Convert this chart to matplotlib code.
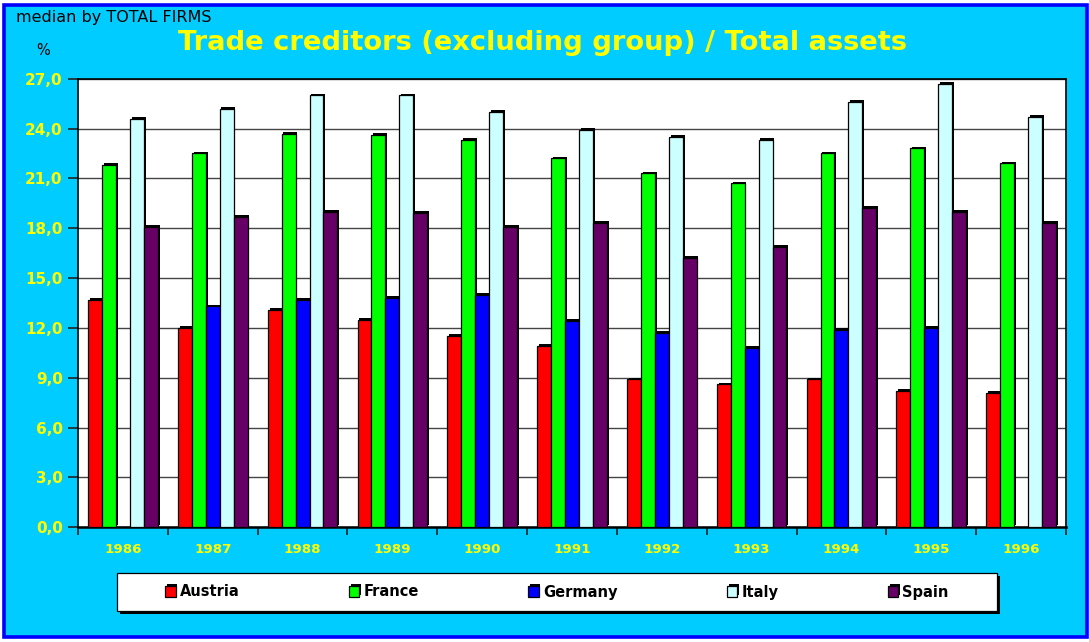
import matplotlib
matplotlib.use("Agg")
import matplotlib.pyplot as plt
import matplotlib.patches as mpatches
import matplotlib.patheffects as pe
import numpy as np

# ---- data -------------------------------------------------------------
years = ["1986", "1987", "1988", "1989", "1990", "1991",
         "1992", "1993", "1994", "1995", "1996"]
austria = [13.7, 12.0, 13.1, 12.5, 11.5, 10.9, 8.9, 8.6, 8.9, 8.2, 8.1]
france = [21.8, 22.5, 23.7, 23.6, 23.3, 22.2, 21.3, 20.7, 22.5, 22.8, 21.9]
germany = [0.0, 13.3, 13.7, 13.8, 14.0, 12.4, 11.7, 10.8, 11.9, 12.0, 0.0]
italy = [24.6, 25.2, 26.0, 26.0, 25.0, 23.9, 23.5, 23.3, 25.6, 26.7, 24.7]
spain = [18.1, 18.7, 19.0, 18.9, 18.1, 18.3, 16.2, 16.9, 19.2, 19.0, 18.3]

series = [("Austria", austria, "#FF0000"),
          ("France", france, "#00FF00"),
          ("Germany", germany, "#0000FF"),
          ("Italy", italy, "#CCFFFF"),
          ("Spain", spain, "#660066")]

yticks = np.arange(0, 27.1, 3)

# ---- figure -----------------------------------------------------------
W, H = 1089, 642
fig = plt.figure(figsize=(W / 100, H / 100), dpi=100, facecolor="white")


def fx(px):
    return px / W


def fy(py):
    return 1 - py / H


# cyan chart area with blue frame
bg = mpatches.Rectangle((fx(3.7), fy(637)), fx(1086.7) - fx(3.7), fy(5.3) - fy(637),
                        transform=fig.transFigure, facecolor="#00CCFF",
                        edgecolor="#0000FF", linewidth=2.6, zorder=-5)
fig.patches.append(bg)

ax = fig.add_axes([fx(78), fy(527.3), fx(1066) - fx(78), fy(78.7) - fy(527.3)])
ax.set_facecolor("white")

n = len(years)
x = np.arange(n)
bw = 0.155
shadow = [pe.SimplePatchShadow(offset=(1.3, 1.3), shadow_rgbFace="black", alpha=1.0),
          pe.Normal()]

handles = []
for k, (name, vals, col) in enumerate(series):
    bars = ax.bar(x + (k - 2) * bw, vals, width=bw, color=col,
                  edgecolor="black", linewidth=0.9, label=name, zorder=3)
    for b in bars:
        b.set_path_effects(shadow)
    handles.append(bars)

ax.set_xlim(-0.5, n - 0.5)
ax.set_ylim(0, 27)

# y axis
ax.set_yticks(yticks)
ax.set_yticklabels([f"{v:.1f}".replace(".", ",") for v in yticks],
                   fontfamily="DejaVu Sans", fontweight="bold",
                   fontsize=11, color="#FFFF00")
ax.tick_params(axis="y", which="major", length=7, width=1.2, color="#222222", pad=4)
ax.yaxis.grid(True, color="#444444", linewidth=1.0, zorder=0)
ax.set_axisbelow(True)

# x axis: ticks on group boundaries, labels centred on groups
ax.set_xticks(np.arange(-0.5, n, 1.0))
ax.set_xticklabels([])
ax.set_xticks(x, minor=True)
ax.set_xticklabels(years, minor=True, fontfamily="DejaVu Sans",
                   fontweight="bold", fontsize=9.6, color="#FFFF00")
ax.tick_params(axis="x", which="major", length=6, width=1.2, color="#222222")
ax.tick_params(axis="x", which="minor", length=0, pad=11.5)

for side, sp in ax.spines.items():
    sp.set_color("black")
    sp.set_linewidth(1.2)
ax.spines["bottom"].set_linewidth(1.8)

# ---- texts ------------------------------------------------------------
fig.text(fx(543), fy(50), "Trade creditors (excluding group) / Total assets",
         ha="center", va="baseline", fontfamily="DejaVu Sans",
         fontweight="bold", fontsize=19.7, color="#FFFF00")
fig.text(fx(16), fy(22), "median by TOTAL FIRMS", ha="left", va="baseline",
         fontfamily="DejaVu Sans", fontsize=11.5, color="black")
fig.text(fx(36), fy(55), "%", ha="left", va="baseline",
         fontfamily="DejaVu Sans", fontsize=10.5, color="black")

# ---- legend -----------------------------------------------------------
lx0, lx1, ly0, ly1 = 117, 997, 573, 611
lframe = mpatches.Rectangle((fx(lx0), fy(ly1)), fx(lx1) - fx(lx0), fy(ly0) - fy(ly1),
                            transform=fig.transFigure, facecolor="white",
                            edgecolor="black", linewidth=0.9, zorder=1)
lframe.set_path_effects([pe.SimplePatchShadow(offset=(2.2, -2.2),
                                              shadow_rgbFace="black", alpha=1.0),
                         pe.Normal()])
fig.patches.append(lframe)

leg = fig.legend(handles, [s[0] for s in series], loc="center",
                 bbox_to_anchor=(fx(557), fy(592)), ncol=5, frameon=False,
                 prop={"family": "DejaVu Sans", "weight": "bold", "size": 10.5},
                 handlelength=0.7, handleheight=0.7, handletextpad=0.3,
                 columnspacing=7.5, borderpad=0.2)
leg.set_zorder(5)

fig.savefig("out.png", dpi=100, facecolor=fig.get_facecolor())
